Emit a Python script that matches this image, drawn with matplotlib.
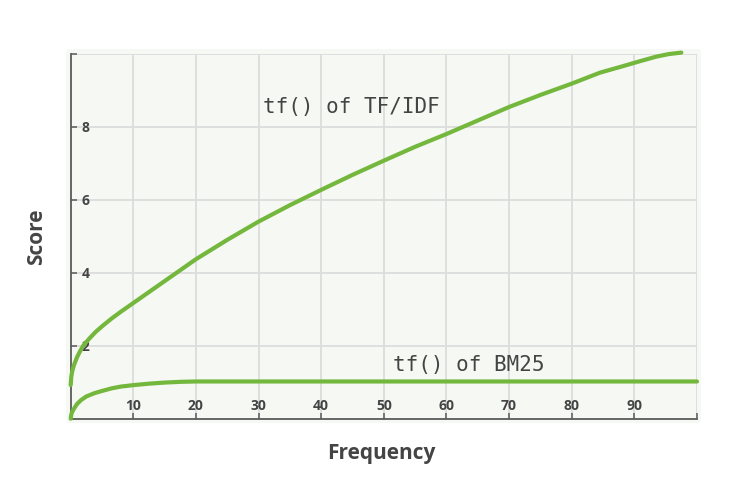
import matplotlib
matplotlib.use("Agg")
import matplotlib.pyplot as plt
from matplotlib.patches import FancyBboxPatch

# ---- data ----
tfidf_x = [0, 0.1, 0.25, 0.5, 1, 1.5, 2, 3, 4, 5, 6.5, 8, 10, 12.5, 15, 17.5,
           20, 25, 30, 35, 40, 45, 50, 55, 60, 65, 70, 75, 80, 84.5, 88, 91,
           93.5, 95.5, 97.5]
tfidf_y = [0.92, 1.16, 1.30, 1.46, 1.68, 1.85, 2.0, 2.20, 2.38, 2.53, 2.74,
           2.93, 3.17, 3.47, 3.77, 4.07, 4.37, 4.90, 5.40, 5.85, 6.27, 6.68,
           7.07, 7.45, 7.80, 8.17, 8.54, 8.87, 9.18, 9.48, 9.65, 9.80, 9.92,
           9.99, 10.03]
bm25_x = [0, 0.1, 0.2, 0.4, 0.7, 1, 1.65, 2.5, 3.8, 5, 6.5, 8, 10, 12.5, 15,
          17.5, 20, 25, 30, 40, 50, 60, 70, 80, 90, 100]
bm25_y = [0.0, 0.12, 0.17, 0.24, 0.32, 0.40, 0.51, 0.61, 0.70, 0.76, 0.83,
          0.88, 0.92, 0.96, 0.99, 1.01, 1.02, 1.02, 1.02, 1.02, 1.02, 1.02,
          1.02, 1.02, 1.02, 1.02]
x_ticks = [10, 20, 30, 40, 50, 60, 70, 80, 90, 100]
x_tick_labels = ["10", "20", "30", "40", "50", "60", "70", "80", "90", ""]
y_ticks = [2, 4, 6, 8, 10]
y_tick_labels = ["2", "4", "6", "8", ""]
label_tfidf = "tf() of TF/IDF"
label_bm25 = "tf() of BM25"
x_title = "Frequency"
y_title = "Score"

GREEN = "#74b73d"
TEXT = "#444444"
SPINE = "#5a5a5a"
GRID = "#dcdcdc"
PANEL = "#f6f8f4"

fig = plt.figure(figsize=(7.5, 4.96), dpi=100)
W, H = 750, 496

# background panel (rounded)
panel = FancyBboxPatch((66 / W, 1 - 423 / H), (701 - 66) / W, (423 - 49) / H,
                       boxstyle="round,pad=0,rounding_size=0.006",
                       transform=fig.transFigure, facecolor=PANEL,
                       edgecolor="none", zorder=-5)
fig.patches.append(panel)

ax = fig.add_axes([70.7 / W, 1 - 418.7 / H, (697 - 70.7) / W, (418.7 - 53.7) / H])
ax.set_zorder(2)
ax.patch.set_visible(False)
ax.set_xlim(0, 100)
ax.set_ylim(0, 10)

# grid
for gx in [10, 20, 30, 40, 50, 60, 70, 80, 90, 100]:
    ax.axvline(gx, color=GRID, lw=1.3, zorder=1)
for gy in [2, 4, 6, 8, 10]:
    ax.axhline(gy, color=GRID, lw=1.3, zorder=1)

ax.plot(tfidf_x, tfidf_y, color=GREEN, lw=3.0, solid_capstyle="round",
        solid_joinstyle="round", zorder=3, clip_on=False)
ax.plot(bm25_x, bm25_y, color=GREEN, lw=3.0, solid_capstyle="round",
        solid_joinstyle="round", zorder=3, clip_on=False)

for s in ["top", "right"]:
    ax.spines[s].set_visible(False)
for s in ["left", "bottom"]:
    ax.spines[s].set_color(SPINE)
    ax.spines[s].set_linewidth(1.3)

tick_font = dict(family="Open Sans", weight="bold", size=10)
ax.set_xticks(x_ticks)
ax.set_xticklabels(x_tick_labels, color=TEXT, **tick_font)
ax.set_yticks(y_ticks)
ax.set_yticklabels(y_tick_labels, color=TEXT, **tick_font)
ax.tick_params(axis="both", direction="in", length=4.5, width=1.1, color=SPINE)
ax.tick_params(axis="y", pad=-8)
ax.tick_params(axis="x", pad=-6.3)
for lab in ax.get_yticklabels():
    lab.set_horizontalalignment("left")
for lab in ax.get_xticklabels():
    lab.set_verticalalignment("baseline")

mono = dict(family="DejaVu Sans Mono", size=15, color=TEXT)
ax.text(30.7, 8.375, label_tfidf, ha="left", va="baseline", zorder=4, **mono)
ax.text(51.4, 1.315, label_bm25, ha="left", va="baseline", zorder=4, **mono)

fig.text(381 / W, 1 - 454 / H, x_title, ha="center", va="center",
         family="Open Sans", weight="bold", size=15, color=TEXT)
fig.text(37 / W, 1 - 237 / H, y_title, ha="center", va="center", rotation=90,
         family="Open Sans", weight="bold", size=15, color=TEXT)

fig.savefig("out.png", dpi=100)
